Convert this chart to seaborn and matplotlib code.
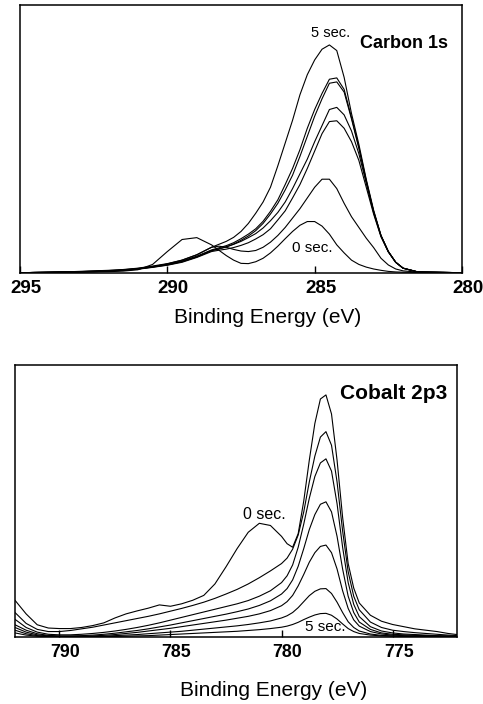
import numpy as np
import pandas as pd
import matplotlib
matplotlib.use("Agg")
import matplotlib.pyplot as plt
from matplotlib.transforms import ScaledTranslation
import seaborn as sns

# ---------------- Carbon 1s data ----------------
carbon_energy = [295, 294.5, 294, 293.5, 293, 292.5, 292, 291.5, 291, 290.5, 290, 289.5, 289, 288.5,
                 288.25, 288, 287.75, 287.5, 287.25, 287, 286.75, 286.5, 286.25, 286, 285.75, 285.5,
                 285.25, 285, 284.75, 284.5, 284.25, 284, 283.75, 283.5, 283.25, 283, 282.75, 282.5,
                 282.25, 282, 281.5, 281, 280.5, 280]
carbon_labels = ["5 sec", "c2", "c3", "c4", "c5", "c6", "0 sec"]
carbon_5s = [0.1, 0.2, 0.3, 0.4, 0.6, 0.8, 1.0, 1.3, 1.8, 2.6, 3.5, 4.8, 6.8, 9.6,
             10.7, 11.8, 13.3, 15.5, 18.5, 22.3, 26.5, 32.0, 40.0, 48.5, 57.0, 66.5,
             74.0, 79.5, 83.5, 85.1, 83.0, 73.0, 59.5, 48.0, 35.0, 23.5, 14.0, 8.0,
             4.0, 1.8, 0.4, 0.3, 0.2, 0.1]
carbon_c2 = [0.1, 0.2, 0.3, 0.4, 0.5, 0.7, 0.9, 1.2, 1.7, 2.4, 3.3, 4.5, 6.3, 8.6,
             9.4, 10.2, 11.3, 12.8, 14.5, 16.5, 19.3, 23.0, 27.3, 33.0, 39.0, 46.0,
             54.0, 61.0, 67.0, 72.3, 72.8, 68.5, 58.0, 47.0, 34.5, 23.0, 14.0, 8.0,
             4.0, 1.8, 0.4, 0.3, 0.2, 0.1]
carbon_c3 = [0.1, 0.2, 0.3, 0.4, 0.5, 0.6, 0.8, 1.1, 1.6, 2.3, 3.1, 4.3, 6.0, 8.3,
             9.0, 9.8, 10.8, 12.2, 13.8, 15.8, 18.5, 22.0, 26.0, 31.0, 36.5, 43.5,
             51.0, 58.5, 65.0, 70.8, 71.3, 67.5, 57.5, 46.5, 34.2, 23.0, 14.0, 8.0,
             4.0, 1.8, 0.4, 0.3, 0.2, 0.1]
carbon_c4 = [0.1, 0.2, 0.3, 0.4, 0.5, 0.6, 0.8, 1.0, 1.5, 2.2, 3.0, 4.2, 6.0, 8.4,
             9.0, 9.7, 10.7, 11.8, 13.2, 14.7, 16.8, 19.5, 22.6, 26.5, 31.5, 37.0,
             42.5, 49.0, 55.0, 61.0, 61.8, 59.0, 53.0, 44.5, 33.5, 22.5, 13.8, 8.0,
             4.0, 1.8, 0.4, 0.3, 0.2, 0.1]
carbon_c5 = [0.1, 0.2, 0.2, 0.3, 0.4, 0.5, 0.7, 1.0, 1.4, 2.1, 2.9, 4.0, 5.8, 8.0,
             8.5, 8.9, 9.5, 10.3, 11.3, 12.7, 14.3, 16.5, 19.8, 23.2, 28.0, 33.0,
             39.0, 45.5, 52.0, 56.5, 56.8, 54.0, 49.0, 42.0, 32.0, 22.0, 13.5, 7.8,
             4.0, 1.8, 0.4, 0.3, 0.2, 0.1]
carbon_c6 = [0.1, 0.2, 0.2, 0.3, 0.4, 0.5, 0.7, 1.0, 1.5, 2.3, 3.4, 4.8, 6.8, 9.6,
             10.0, 9.6, 8.8, 8.2, 8.0, 8.4, 9.6, 11.5, 14.0, 17.0, 20.5, 24.0,
             28.0, 32.0, 35.0, 35.0, 31.5, 26.0, 21.0, 17.0, 13.0, 9.5, 5.5, 3.0,
             1.5, 0.8, 0.3, 0.2, 0.1, 0.1]
carbon_0s = [0.1, 0.1, 0.2, 0.2, 0.3, 0.4, 0.5, 0.7, 1.2, 3.2, 8.0, 12.5, 13.2, 10.5,
             8.5, 6.5, 4.8, 3.6, 3.5, 4.2, 5.5, 7.5, 10.0, 12.8, 15.5, 17.8,
             19.2, 19.2, 17.5, 14.5, 10.5, 7.5, 4.8, 3.2, 2.2, 1.5, 1.0, 0.6,
             0.4, 0.3, 0.2, 0.1, 0.1, 0.1]
carbon_ticks = [295, 290, 285, 280]

# ---------------- Cobalt 2p3 data ----------------
cobalt_energy = [792, 791.5, 791, 790.5, 790, 789.5, 789, 788.5, 788, 787.5, 787, 786.5, 786,
                 785.5, 785, 784.5, 784, 783.5, 783, 782.5, 782, 781.5, 781, 780.5, 780,
                 779.75, 779.5, 779.25, 779, 778.75, 778.5, 778.25, 778, 777.75, 777.5, 777.25,
                 777, 776.75, 776.5, 776, 775.5, 775, 774.5, 774, 773.5, 773, 772.5, 772]
cobalt_labels = ["0 sec", "b", "c", "d", "e", "f", "5 sec"]
cobalt_0s = [13.5, 8.5, 4.5, 3.3, 3.1, 3.1, 3.5, 4.2, 5.2, 7.0, 8.5, 9.6, 10.6,
             11.8, 11.3, 12.2, 13.5, 15.3, 19.5, 25.8, 32.5, 38.5, 41.8, 41.0, 37.0,
             34.3, 33.0, 38.0, 50.0, 65.0, 78.5, 87.5, 89.0, 82.0, 65.0, 44.0,
             27.0, 18.0, 12.5, 8.0, 5.8, 4.6, 3.8, 3.0, 2.5, 2.0, 1.3, 0.8]
cobalt_b = [9.0, 5.0, 2.8, 2.0, 2.0, 2.4, 3.0, 3.6, 4.4, 5.2, 6.0, 6.8, 7.6,
            8.5, 9.5, 10.5, 11.6, 12.8, 14.2, 15.8, 17.5, 19.5, 21.8, 24.3, 27.0,
            29.0, 32.3, 37.5, 46.0, 57.0, 66.5, 73.5, 75.5, 70.5, 57.0, 39.0,
            24.0, 15.0, 10.0, 5.5, 3.5, 2.5, 2.0, 1.6, 1.3, 1.0, 0.7, 0.5]
cobalt_c = [6.5, 3.5, 1.8, 1.0, 0.8, 0.8, 1.0, 1.3, 1.7, 2.2, 2.8, 3.5, 4.3,
            5.2, 6.2, 7.2, 8.2, 9.2, 10.2, 11.2, 12.2, 13.4, 15.0, 17.0, 20.0,
            22.5, 26.5, 33.0, 41.5, 51.0, 59.0, 64.0, 65.5, 61.0, 49.0, 33.0,
            20.0, 12.0, 7.5, 3.8, 2.2, 1.5, 1.1, 0.9, 0.7, 0.5, 0.4, 0.3]
cobalt_d = [4.5, 2.5, 1.2, 0.6, 0.4, 0.4, 0.5, 0.7, 1.0, 1.4, 1.9, 2.4, 3.0,
            3.7, 4.4, 5.2, 6.0, 6.8, 7.6, 8.4, 9.3, 10.3, 11.6, 13.3, 15.8,
            17.8, 21.0, 26.0, 32.5, 39.5, 45.0, 48.8, 49.7, 46.0, 37.0, 25.0,
            15.0, 9.0, 5.5, 2.8, 1.5, 1.0, 0.8, 0.6, 0.5, 0.4, 0.3, 0.2]
cobalt_e = [3.5, 1.8, 0.8, 0.4, 0.3, 0.3, 0.3, 0.4, 0.6, 0.9, 1.3, 1.7, 2.2,
            2.7, 3.2, 3.8, 4.4, 5.0, 5.6, 6.2, 6.9, 7.6, 8.5, 9.7, 11.5,
            13.0, 15.3, 18.8, 23.0, 27.5, 31.0, 33.3, 33.8, 31.0, 25.0, 17.0,
            10.5, 6.3, 4.0, 2.0, 1.1, 0.7, 0.5, 0.4, 0.3, 0.3, 0.2, 0.2]
cobalt_f = [2.5, 1.2, 0.5, 0.2, 0.1, 0.1, 0.2, 0.2, 0.3, 0.5, 0.7, 0.9, 1.2,
            1.5, 1.8, 2.1, 2.5, 2.9, 3.3, 3.7, 4.1, 4.6, 5.2, 5.9, 7.0,
            7.8, 9.0, 10.8, 13.0, 15.2, 16.8, 17.7, 17.8, 16.0, 12.8, 9.0,
            5.6, 3.5, 2.2, 1.1, 0.6, 0.4, 0.3, 0.2, 0.2, 0.1, 0.1, 0.1]
cobalt_5s = [1.5, 0.7, 0.3, 0.1, 0.0, 0.0, 0.0, 0.1, 0.1, 0.2, 0.3, 0.4, 0.5,
             0.7, 0.9, 1.1, 1.3, 1.5, 1.7, 1.9, 2.1, 2.4, 2.7, 3.1, 3.6,
             4.0, 4.6, 5.4, 6.4, 7.3, 8.1, 8.6, 8.7, 8.0, 6.6, 4.8,
             3.1, 2.0, 1.3, 0.7, 0.4, 0.3, 0.2, 0.2, 0.1, 0.1, 0.1, 0.1]
cobalt_ticks = [790, 785, 780, 775]


def long_frame(energy, series, labels):
    frames = []
    for lab, vals in zip(labels, series):
        frames.append(pd.DataFrame({"energy": energy, "intensity": vals, "time": lab}))
    return pd.concat(frames, ignore_index=True)


df_c = long_frame(carbon_energy,
                  [carbon_5s, carbon_c2, carbon_c3, carbon_c4, carbon_c5, carbon_c6, carbon_0s],
                  carbon_labels)
df_co = long_frame(cobalt_energy,
                   [cobalt_0s, cobalt_b, cobalt_c, cobalt_d, cobalt_e, cobalt_f, cobalt_5s],
                   cobalt_labels)

sns.set_style("white")
plt.rcParams["font.family"] = ["Liberation Sans", "DejaVu Sans"]
plt.rcParams["text.color"] = "black"
plt.rcParams["axes.labelcolor"] = "black"
plt.rcParams["xtick.color"] = "black"
plt.rcParams["xtick.labelcolor"] = "black"

W, H = 483, 704
fig = plt.figure(figsize=(W / 100, H / 100), dpi=100)
ax1 = fig.add_axes([20 / W, 1 - 273 / H, 442 / W, 268 / H])
ax2 = fig.add_axes([15 / W, 1 - 637 / H, 442 / W, 272 / H])

for ax, df, labels in [(ax1, df_c, carbon_labels), (ax2, df_co, cobalt_labels)]:
    sns.lineplot(data=df, x="energy", y="intensity", hue="time",
                 palette={k: "black" for k in labels}, estimator=None,
                 legend=False, linewidth=0.8, ax=ax)
    for sp in ax.spines.values():
        sp.set_visible(True)
        sp.set_color("black")
        sp.set_linewidth(1.1)
    ax.set_yticks([])
    ax.set_ylabel("")
    ax.set_ylim(0, 100)
    ax.tick_params(axis="x", direction="in", length=5, width=1, color="black",
                   labelcolor="black", pad=5, bottom=True)

ax1.set_xlim(295, 280)
ax1.set_xticks(carbon_ticks)
ax1.set_xticklabels([str(t) for t in carbon_ticks], fontweight="bold", fontsize=13.5,
                    color="black")
ax2.set_xlim(792, 772.1)
ax2.set_xticks(cobalt_ticks)
ax2.set_xticklabels([str(t) for t in cobalt_ticks], fontweight="bold", fontsize=12.8,
                    color="black")

offset = ScaledTranslation(6 / 100, 0, fig.dpi_scale_trans)
for ax in (ax1, ax2):
    for lbl in ax.get_xticklabels():
        lbl.set_transform(lbl.get_transform() + offset)

ax1.set_xlabel("Binding Energy (eV)", fontsize=15, color="black")
ax1.xaxis.set_label_coords((268 - 20) / 442, (273 - 318) / 268)
ax1.xaxis.label.set_va("center")
ax2.set_xlabel("Binding Energy (eV)", fontsize=15, color="black")
ax2.xaxis.set_label_coords((274 - 15) / 442, (637 - 690) / 272)
ax2.xaxis.label.set_va("center")

# annotations
ax1.text(284.46, 89.6, "5 sec.", fontsize=10.5, ha="center", va="center", color="black")
ax1.text(283.45, 85.8, "Carbon 1s", fontsize=13, fontweight="bold", ha="left", va="center",
         color="black")
ax1.text(285.07, 9.3, "0 sec.", fontsize=11, ha="center", va="center", color="black")

ax2.text(777.36, 89.6, "Cobalt 2p3", fontsize=15, fontweight="bold", ha="left", va="center",
         color="black")
ax2.text(780.75, 45.2, "0 sec.", fontsize=11.5, ha="center", va="center", color="black")
ax2.text(778.04, 3.8, "5 sec.", fontsize=11, ha="center", va="center", color="black")

fig.savefig("out.png", dpi=100, facecolor="white")
